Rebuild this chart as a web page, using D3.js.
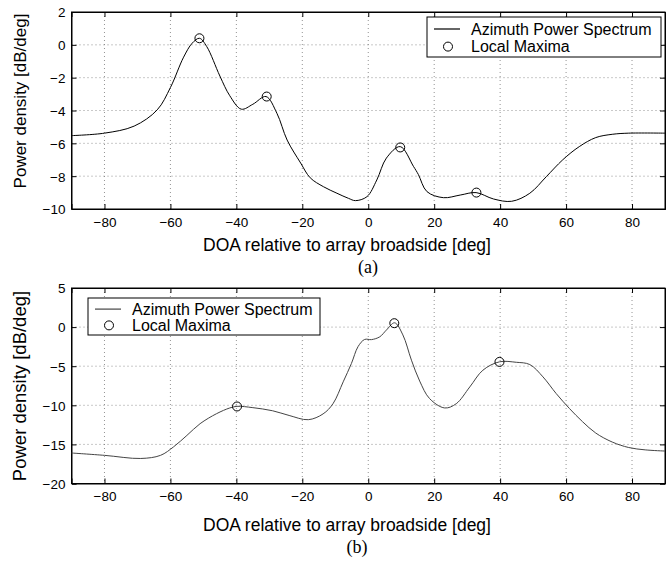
<!DOCTYPE html>
<html>
<head>
<meta charset="utf-8">
<script src="https://cdn.jsdelivr.net/npm/d3@7"></script>
<style>
  body { margin: 0; background: #fff; }
  svg { display: block; font-family: "Liberation Sans", Arial, Helvetica, sans-serif; }
</style>
</head>
<body>
<div id="chart"></div>
<script>
// values
const xTicks = [-80, -60, -40, -20, 0, 20, 40, 60, 80];

// (a)
const doaA = [-90, -80, -71, -64, -60, -56, -53.4, -51.2, -49, -45, -42, -38.5, -35, -31, -27.7, -24.6,
  -20.5, -17.6, -13.6, -9.5, -6, -3.9, -0.4, 2.6, 5.5, 9.7, 13.7, 15.2, 17.8, 22.8, 27.9, 32.7,
  38, 43.5, 49, 54, 59, 64, 69, 74, 79, 90];
const powerA = [-5.53, -5.38, -4.95, -3.96, -2.6, -0.75, 0.1, 0.4, -0.1, -1.9, -3.1, -3.92, -3.62, -3.15, -4.17, -5.8,
  -7.2, -8.1, -8.64, -9.04, -9.35, -9.49, -9.25, -8.23, -6.9, -6.2, -7.4, -7.9, -8.94, -9.31, -9.15, -9.0,
  -9.39, -9.53, -9.04, -8.03, -7.0, -6.2, -5.65, -5.45, -5.38, -5.38];
const peakDoaA = [-51.2, -30.8, 9.7, 32.8];
const peakPowerA = [0.4, -3.15, -6.25, -9.0];
const yTicksA = [2, 0, -2, -4, -6, -8, -10];

// (b)
const doaB = [-90, -80, -69, -63, -59, -55, -51, -46, -42, -39.8, -35, -29, -24, -18.2, -13.7, -10.7,
  -7.6, -5.1, -3.1, -1.1, 1, 3.5, 5.5, 8, 10.5, 13.1, 15.6, 18.6, 23.2, 26.7, 30.8, 34.8,
  39.8, 44.9, 49, 53, 57, 61, 65, 69, 74, 79, 84, 90];
const powerB = [-16.1, -16.4, -16.8, -16.4, -15.3, -13.85, -12.35, -11.07, -10.34, -10.13, -10.3, -10.7, -11.3, -11.84, -11.1, -9.8,
  -7.0, -4.65, -2.5, -1.58, -1.6, -1.24, -0.38, 0.55, -1.0, -4.23, -6.9, -9.14, -10.34, -9.79, -7.65, -5.5,
  -4.44, -4.5, -4.79, -6.37, -8.5, -10.4, -12.1, -13.55, -14.7, -15.4, -15.7, -15.85];
const peakDoaB = [-39.8, 7.9, 39.8];
const peakPowerB = [-10.15, 0.5, -4.45];
const yTicksB = [5, 0, -5, -10, -15, -20];

const legendNames = ["Azimuth Power Spectrum", "Local Maxima"];

const W = 666, H = 565;
const svg = d3.select("#chart").append("svg").attr("width", W).attr("height", H);

const panels = [
  {doa: doaA, pow: powerA, pkX: peakDoaA, pkY: peakPowerA, yTicks: yTicksA,
   top: 12, bottom: 209, lineColor: "#000", ylabSize: 17, ylabY: 101,
   xlabY: 251, xlabX: 347, tag: "(a)", tagX: 368, tagY: 273,
   legend: {x: 427, y: 17, w: 234, h: 40}},
  {doa: doaB, pow: powerB, pkX: peakDoaB, pkY: peakPowerB, yTicks: yTicksB,
   top: 288, bottom: 483.5, lineColor: "#444", ylabSize: 18.5, ylabY: 386,
   xlabY: 531, xlabX: 347, tag: "(b)", tagX: 357, tagY: 553,
   legend: {x: 88, y: 298, w: 232, h: 37}}
];

const left = 71.5, right = 665;

panels.forEach(function(p) {
  let x = d3.scaleLinear().domain([-90, 90]).range([left, right]);
  let y = d3.scaleLinear().domain([p.yTicks[p.yTicks.length - 1], p.yTicks[0]]).range([p.bottom, p.top]);
  let g = svg.append("g");

  // dotted grid
  g.append("g").selectAll("line").data(xTicks).enter().append("line")
    .attr("x1", d => x(d)).attr("x2", d => x(d))
    .attr("y1", p.top).attr("y2", p.bottom)
    .attr("stroke", "#777").attr("stroke-width", 0.8).attr("stroke-dasharray", "1,3");
  g.append("g").selectAll("line").data(p.yTicks.slice(1, -1)).enter().append("line")
    .attr("x1", left).attr("x2", right)
    .attr("y1", d => y(d)).attr("y2", d => y(d))
    .attr("stroke", "#777").attr("stroke-width", 0.8).attr("stroke-dasharray", "1,3");

  // axes, inward ticks on all sides
  let fmt = d3.format("d");
  let xb = g.append("g").attr("transform", `translate(0,${p.bottom})`)
    .call(d3.axisBottom(x).tickValues(xTicks).tickSize(-5).tickPadding(8).tickFormat(fmt));
  let xt = g.append("g").attr("transform", `translate(0,${p.top})`)
    .call(d3.axisTop(x).tickValues(xTicks).tickSize(-5).tickFormat(""));
  let yl = g.append("g").attr("transform", `translate(${left},0)`)
    .call(d3.axisLeft(y).tickValues(p.yTicks).tickSize(-5).tickPadding(6).tickFormat(fmt));
  let yr = g.append("g").attr("transform", `translate(${right},0)`)
    .call(d3.axisRight(y).tickValues(p.yTicks).tickSize(-5).tickFormat(""));
  [xb, xt, yl, yr].forEach(function(a) {
    a.select(".domain").attr("stroke", "#000");
    a.selectAll(".tick line").attr("stroke", "#000");
    a.selectAll("text").attr("fill", "#000").style("font-size", "13.5px")
      .style("font-family", "'Liberation Sans', Arial, sans-serif");
  });
  yl.selectAll(".tick text").attr("dy", "0.36em");

  // frame
  g.append("rect").attr("x", left).attr("y", p.top)
    .attr("width", right - left).attr("height", p.bottom - p.top)
    .attr("fill", "none").attr("stroke", "#000");

  // spectrum curve
  let pts = p.doa.map((d, i) => [d, p.pow[i]]);
  let line = d3.line().x(d => x(d[0])).y(d => y(d[1])).curve(d3.curveCatmullRom.alpha(0.5));
  g.append("path").datum(pts).attr("d", line)
    .attr("fill", "none").attr("stroke", p.lineColor).attr("stroke-width", 1);

  // local maxima
  g.append("g").selectAll("circle").data(p.pkX).enter().append("circle")
    .attr("cx", d => x(d)).attr("cy", (d, i) => y(p.pkY[i])).attr("r", 4.5)
    .attr("fill", "none").attr("stroke", "#000").attr("stroke-width", 1);

  // legend
  let L = p.legend;
  let lg = g.append("g");
  lg.append("rect").attr("x", L.x).attr("y", L.y).attr("width", L.w).attr("height", L.h)
    .attr("fill", "#fff").attr("stroke", "#000");
  let row1 = L.y + L.h * 0.3, row2 = L.y + L.h * 0.74;
  lg.append("line").attr("x1", L.x + 7).attr("x2", L.x + 33)
    .attr("y1", row1).attr("y2", row1).attr("stroke", p.lineColor).attr("stroke-width", 1.2);
  lg.append("circle").attr("cx", L.x + 21).attr("cy", row2).attr("r", 4.5)
    .attr("fill", "none").attr("stroke", "#000");
  lg.selectAll("text").data(legendNames).enter().append("text")
    .attr("x", L.x + 44).attr("y", (d, i) => i == 0 ? row1 : row2)
    .attr("dy", "0.36em").style("font-size", "16px").text(d => d);

  // labels
  g.append("text")
    .attr("transform", `translate(26,${p.ylabY}) rotate(-90)`)
    .style("text-anchor", "middle").style("font-size", p.ylabSize + "px")
    .text("Power density [dB/deg]");
  g.append("text").attr("x", p.xlabX).attr("y", p.xlabY)
    .style("text-anchor", "middle").style("font-size", "17.5px")
    .text("DOA relative to array broadside [deg]");
  g.append("text").attr("x", p.tagX).attr("y", p.tagY)
    .style("text-anchor", "middle").style("font-size", "18px")
    .style("font-family", "'Liberation Serif', 'Times New Roman', serif")
    .text(p.tag);
});
</script>
</body>
</html>
